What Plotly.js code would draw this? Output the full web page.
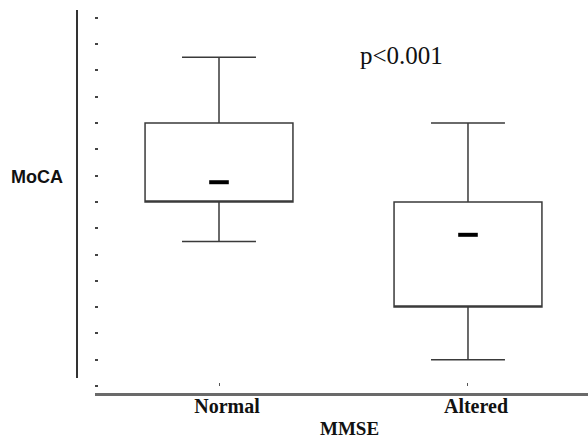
<!DOCTYPE html>
<html>
<head>
<meta charset="utf-8">
<script src="https://cdn.plot.ly/plotly-3.0.1.min.js"></script>
<style>html,body{margin:0;padding:0;background:#fff;}#chart{width:588px;height:440px;}</style>
</head>
<body>
<div id="chart"></div>
<script>
// Data (MoCA scores by MMSE group)
var categories = ["Normal", "Altered"];
var lowerWhisker = [11, 2];
var q1Values = [14, 6];
var q3Values = [20, 14];
var upperWhisker = [25, 20];
var centerMarks = [15.5, 11.5];
var yTickValues = [0, 2, 4, 6, 8, 10, 12, 14, 16, 18, 20, 22, 24, 26, 28];
var pText = "p<0.001";
var xTitle = "MMSE";
var yTitle = "MoCA";

var serif = "'Liberation Serif', 'Times New Roman', serif";
var sans = "'Liberation Sans', Arial, sans-serif";

var boxTrace = {
  type: "box",
  x: categories,
  q1: q1Values,
  median: q1Values,
  q3: q3Values,
  lowerfence: lowerWhisker,
  upperfence: upperWhisker,
  boxpoints: false,
  fillcolor: "#ffffff",
  line: {color: "#3a3a3a", width: 1.5},
  width: 0.594,
  whiskerwidth: 0.5,
  hoverinfo: "skip",
  showlegend: false
};

var markTrace = {
  type: "scatter",
  mode: "markers",
  x: categories,
  y: centerMarks,
  marker: {symbol: "line-ew", size: 14, color: "#000", line: {color: "#000", width: 4}},
  hoverinfo: "skip",
  showlegend: false
};

var layout = {
  width: 588,
  height: 440,
  margin: {l: 95, r: 0, t: 10, b: 47},
  paper_bgcolor: "#fff",
  plot_bgcolor: "#fff",
  showlegend: false,
  xaxis: {
    type: "category",
    categoryorder: "array",
    categoryarray: categories,
    range: [-0.498, 1.482],
    anchor: "free",
    position: 0.0183,
    showline: false,
    showgrid: false,
    zeroline: false,
    ticks: "inside",
    ticklen: 3,
    tickwidth: 1,
    tickcolor: "#555",
    ticklabelstandoff: 6,
    ticklabelshift: 8,
    tickfont: {family: serif, size: 20, color: "#111", weight: "bold"},
    fixedrange: true
  },
  yaxis: {
    range: [-0.533, 28.6],
    tickmode: "array",
    tickvals: yTickValues,
    showticklabels: false,
    ticks: "inside",
    ticklen: 3,
    tickwidth: 2,
    tickcolor: "#444",
    showline: false,
    showgrid: false,
    zeroline: false,
    fixedrange: true
  },
  shapes: [
    {type: "line", xref: "paper", yref: "paper", x0: -0.0365, x1: -0.0365, y0: 0.039, y1: 1.0,
     line: {color: "#333", width: 2}},
    {type: "line", xref: "paper", yref: "paper", x0: 0, x1: 1, y0: -0.004, y1: -0.004,
     line: {color: "#6a6a6a", width: 3}}
  ],
  annotations: [
    {text: pText, xref: "paper", yref: "paper", x: 0.621, y: 0.8825, xanchor: "center", yanchor: "middle",
     showarrow: false, font: {family: serif, size: 25, color: "#111"}},
    {text: "<b>" + xTitle + "</b>", xref: "paper", yref: "paper", x: 0.517, y: -0.0914, xanchor: "center", yanchor: "middle",
     showarrow: false, font: {family: serif, size: 19, color: "#111"}},
    {text: "<b>" + yTitle + "</b>", xref: "paper", yref: "paper", x: -0.118, y: 0.564, xanchor: "center", yanchor: "middle",
     showarrow: false, font: {family: sans, size: 18, color: "#111"}}
  ]
};

Plotly.newPlot("chart", [boxTrace, markTrace], layout, {displayModeBar: false, staticPlot: true});
</script>
</body>
</html>
